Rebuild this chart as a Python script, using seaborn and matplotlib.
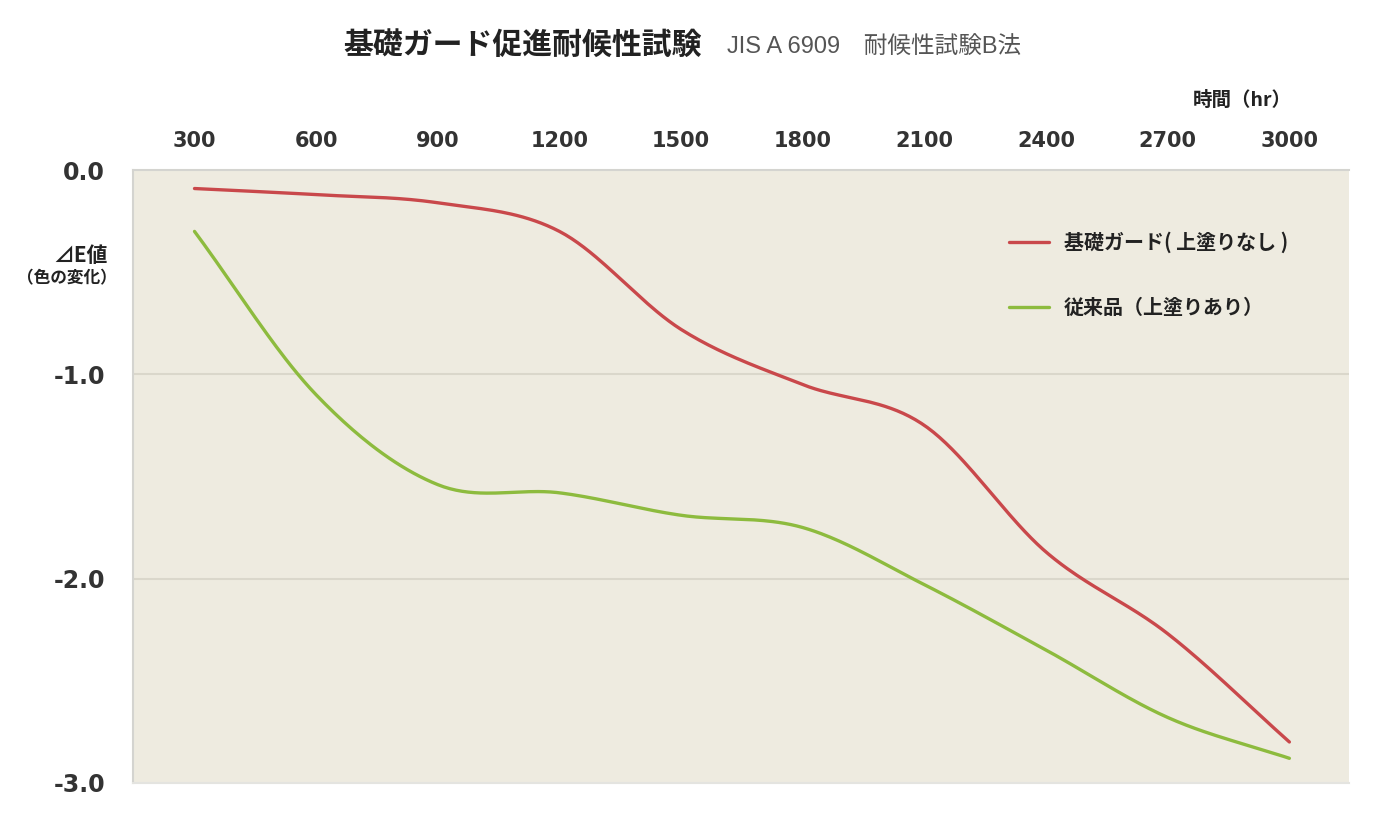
import numpy as np
import pandas as pd
import seaborn as sns
import matplotlib.pyplot as plt
from matplotlib.lines import Line2D

# data
hours = [300, 600, 900, 1200, 1500, 1800, 2100, 2400, 2700, 3000]
guard = [-0.09, -0.12, -0.16, -0.30, -0.78, -1.05, -1.25, -1.87, -2.27, -2.80]
conventional = [-0.30, -1.10, -1.54, -1.58, -1.69, -1.75, -2.03, -2.35, -2.68, -2.88]
series_names = ['基礎ガード( 上塗りなし )', '従来品（上塗りあり）']
y_ticks = [0.0, -1.0, -2.0, -3.0]

RED = '#c9484b'
GREEN = '#8dbb3e'
BG = '#eeebe0'


def smooth(x, y, n=40):
    # catmull-rom style cubic hermite through the measured points
    x = np.asarray(x, float)
    y = np.asarray(y, float)
    m = np.gradient(y, x)
    xs, ys = [], []
    for i in range(len(x) - 1):
        h = x[i + 1] - x[i]
        t = np.linspace(0, 1, n, endpoint=False)
        h00 = 2 * t**3 - 3 * t**2 + 1
        h10 = t**3 - 2 * t**2 + t
        h01 = -2 * t**3 + 3 * t**2
        h11 = t**3 - t**2
        xs.append(x[i] + t * h)
        ys.append(h00 * y[i] + h10 * h * m[i] + h01 * y[i + 1] + h11 * h * m[i + 1])
    xs.append([x[-1]])
    ys.append([y[-1]])
    return np.concatenate(xs), np.concatenate(ys)


frames = []
for name, vals in zip(series_names, [guard, conventional]):
    sx, sy = smooth(hours, vals)
    frames.append(pd.DataFrame({'hours': sx, 'dE': sy, 'series': name}))
df = pd.concat(frames, ignore_index=True)

sns.set_style('white')
plt.rcParams['font.family'] = ['Noto Sans CJK JP', 'DejaVu Sans']

fig = plt.figure(figsize=(13.84, 8.18), dpi=100)
ax = fig.add_axes([0.096, 0.043, 0.879, 0.749])
ax.set_facecolor(BG)

sns.lineplot(data=df, x='hours', y='dE', hue='series', sort=False,
             palette={series_names[0]: RED, series_names[1]: GREEN},
             linewidth=2.4, legend=False, ax=ax)

ax.set_xlim(148, 3148)
ax.set_ylim(-3.0, 0.0)
ax.set_xticks(hours)
ax.set_xticklabels([str(h) for h in hours])
ax.set_yticks(y_ticks)
ax.set_yticklabels(['%.1f' % v for v in y_ticks])
ax.xaxis.tick_top()
ax.tick_params(axis='x', length=0, pad=14, labelsize=15, labelcolor='#333333')
ax.tick_params(axis='y', length=0, pad=20, labelsize=17, labelcolor='#333333')
for lab in ax.get_xticklabels() + ax.get_yticklabels():
    lab.set_fontfamily(['DejaVu Sans'])
    lab.set_fontweight('bold')

for v in [-1.0, -2.0]:
    ax.axhline(v, color='#dad7cb', linewidth=1.5, zorder=0)

for side, sp in ax.spines.items():
    sp.set_color('#d4d4d0')
    sp.set_linewidth(1.5)
ax.spines['right'].set_visible(False)
ax.spines['bottom'].set_color('#e4e4e0')

ax.set_xlabel('')
ax.set_ylabel('')

handles = [Line2D([], [], color=RED, linewidth=2.4),
           Line2D([], [], color=GREEN, linewidth=2.4)]
leg = ax.legend(handles, series_names, loc='upper left', bbox_to_anchor=(0.72, 0.90),
                frameon=False, borderpad=0, borderaxespad=0, handlelength=2.0,
                handletextpad=0.75, labelspacing=2.2,
                prop={'size': 14.4, 'weight': 'bold'})
for t in leg.get_texts():
    t.set_color('#222222')

fig.text(0.248, 0.945, '基礎ガード促進耐候性試験', fontsize=21.5, fontweight='bold',
         color='#222222', ha='left', va='center')
fig.text(0.525, 0.943, 'JIS A 6909　耐候性試験B法', fontsize=17,
         family=['Liberation Sans', 'Noto Sans CJK JP'],
         color='#555555', ha='left', va='center')
fig.text(0.9335, 0.877, '時間（hr）', fontsize=14, fontweight='bold',
         color='#222222', ha='right', va='center')
fig.text(0.058, 0.688, '⊿E値', fontsize=15, fontweight='bold',
         color='#222222', ha='center', va='center')
fig.text(0.048, 0.660, '（色の変化）', fontsize=12, fontweight='bold',
         color='#222222', ha='center', va='center')

fig.savefig('out.png', dpi=100, facecolor='white')
